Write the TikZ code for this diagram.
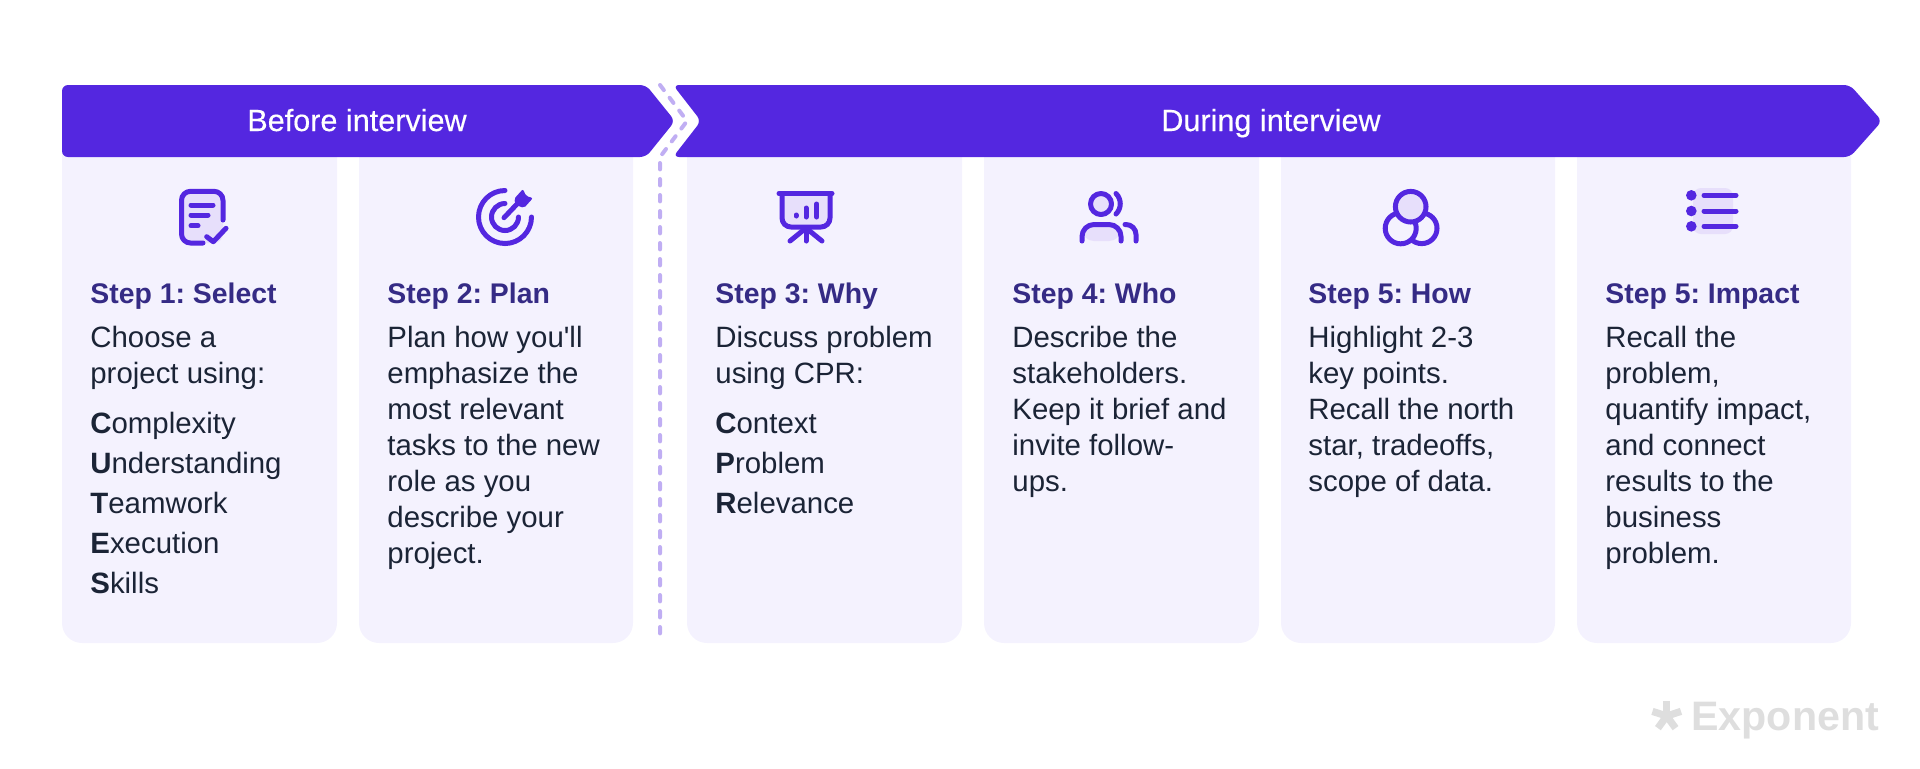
\documentclass[tikz,border=0pt]{standalone}
\usepackage{fontspec}
\setmainfont{Liberation Sans}[Ligatures=TeXOff]
\newfontfamily\mediumfont[FakeBold=0.4]{Liberation Sans}
\usetikzlibrary{positioning}
\frenchspacing

\definecolor{bannerviolet}{HTML}{5427E0}
\definecolor{cardlilac}{HTML}{F4F2FE}
\definecolor{iconlilac}{HTML}{E7DFFB}
\definecolor{dashlilac}{HTML}{C0AEF3}
\definecolor{titleindigo}{HTML}{352B85}
\definecolor{bodyink}{HTML}{1B2436}
\definecolor{logogrey}{HTML}{DEDEDE}

\tikzset{
    bannertext/.style={anchor=base,inner sep=0pt,text=white,font=\fontsize{15.3}{16}\mediumfont},
    steptitle/.style={anchor=base west,inner sep=0pt,text=titleindigo,font=\fontsize{14.2}{16}\selectfont\bfseries},
    stepbody/.style={anchor=base west,inner sep=0pt,align=left,text=bodyink,font=\fontsize{14.7}{18}\selectfont},
    steplist/.style={anchor=base west,inner sep=0pt,align=left,text=bodyink,font=\fontsize{14.7}{20}\selectfont},
    iconline/.style={draw=bannerviolet,line width=2.5pt,line cap=round,line join=round},
    iconfill/.style={fill=iconlilac},
}

\begin{document}
\begin{tikzpicture}[x=0.5pt,y=-0.5pt]
    \useasboundingbox (0,0) rectangle (1920,768);

    % cards
    \foreach \L/\R in {62/337,359/633,687/962,984/1259,1281/1555,1577/1851}{
        \fill[cardlilac] (\L,150) -- (\R,150) -- (\R,623)
            arc[start angle=0,end angle=90,radius=20] -- (\L+20,643)
            arc[start angle=90,end angle=180,radius=20] -- cycle;
    }

    % banners
    \fill[bannerviolet,rounded corners=3pt] (62,85) -- (646,85) -- (675,121) -- (646,157) -- (62,157) -- cycle;
    \fill[bannerviolet,rounded corners=3pt] (673,85) -- (1850,85) -- (1882,121) -- (1850,157) -- (673,157) -- (701,121) -- cycle;
    \node[bannertext] (before) at (357,131) {Before interview};
    \node[bannertext] (during) at (1271,131) {During interview};

    % divider between the two phases
    \coordinate (divtop) at (660,85);
    \coordinate (divmid) at (687,121);
    \coordinate (divturn) at (660,157);
    \coordinate (divend) at (660,641);
    \draw[dashlilac,line width=2pt,line cap=round,dash pattern=on 3.2pt off 4.8pt]
        (divtop) -- (divmid) -- (divturn) -- (divend);

    % select: sheet with tick
    \fill[iconfill,rounded corners=4.5pt] (181.5,191.3) rectangle (223,243);
    \draw[iconline,rounded corners=4.5pt] (223,220) -- (223,191.3) -- (181.5,191.3) -- (181.5,243) -- (203,243);
    \foreach \Y/\E in {205/213,215/208,225.7/198}{
        \draw[iconline] (191,\Y) -- (\E,\Y);
    }
    \draw[iconline] (206.7,236.7) -- (213.3,241.7) -- (226,228.3);

    % plan: target with dart
    \draw[iconline] (505,190.5) arc[start angle=-90,end angle=-360,radius=26.5];
    \draw[iconline] (505,203.5) arc[start angle=-90,end angle=-360,radius=13.5];
    \draw[iconline] (504,217.7) -- (518,203);
    \fill[bannerviolet,rounded corners=1pt] (514,199) -- (523,189) -- (526,196) -- (533,198) -- (524,208) -- (516,205) -- cycle;

    % why: presentation board
    \fill[iconfill] (782,194) -- (830,194) -- (830,227) -- (782,227) -- cycle;
    \draw[iconline,rounded corners=4.5pt] (782,194) -- (782,227) -- (830,227) -- (830,194);
    \draw[iconline] (779,193.5) -- (832,193.5);
    \draw[iconline] (796,215) -- (796,216);
    \draw[iconline] (806,208) -- (806,217);
    \draw[iconline] (816.7,204) -- (816.7,217);
    \draw[iconline] (806,228) -- (806,241);
    \draw[iconline] (806,228) -- (790,241);
    \draw[iconline] (806,228) -- (822,241);

    % who: people
    \draw[iconline,iconfill] (1101,204) circle[radius=10.5];
    \draw[iconline] (1116,193.5) arc[start angle=-45,end angle=45,radius=14.5];
    \fill[iconfill,rounded corners=6pt] (1082,241) -- (1082,224.5) -- (1121,224.5) -- (1121,241) -- cycle;
    \draw[iconline,rounded corners=6pt] (1082,241) -- (1082,224.5) -- (1121,224.5) -- (1121,241);
    \draw[iconline,rounded corners=5pt] (1125,224.5) -- (1136,224.5) -- (1136,241);

    % how: overlapping circles
    \draw[iconline] (1421.7,228.3) circle[radius=15.3];
    \draw[iconline,fill=cardlilac] (1400.7,228.3) circle[radius=15.5];
    \draw[iconline,iconfill] (1410.7,206.7) circle[radius=15.3];

    % impact: list
    \fill[iconfill,rounded corners=4pt] (1693,188) rectangle (1733,234);
    \foreach \Y in {195.3,211,226.3}{
        \fill[bannerviolet] (1691.3,\Y) circle[radius=5.3];
        \draw[iconline] (1704,\Y) -- (1736,\Y);
    }

    % step titles
    \foreach \X/\Name/\Txt in {90/selecttitle/Step 1: Select,387/plantitle/Step 2: Plan,715/whytitle/Step 3: Why,
        1012/whotitle/Step 4: Who,1308/howtitle/Step 5: How,1605/impacttitle/Step 5: Impact}{
        \node[steptitle] (\Name) at (\X,303) {\Txt};
    }

    % step texts, placed by their last baseline
    \node[stepbody] (selectbody) at (90,383) {Choose a\\project using:};
    \node[stepbody] (planbody) at (387,563) {Plan how you'll\\emphasize the\\most relevant\\tasks to the new\\role as you\\describe your\\project.};
    \node[stepbody] (whybody) at (715,383) {Discuss problem\\using CPR:};
    \node[stepbody] (whobody) at (1012,491) {Describe the\\stakeholders.\\Keep it brief and\\invite follow-\\ups.};
    \node[stepbody] (howbody) at (1308,491) {Highlight 2-3\\key points.\\Recall the north\\star, tradeoffs,\\scope of data.};
    \node[stepbody] (impactbody) at (1605,563) {Recall the\\problem,\\quantify impact,\\and connect\\results to the\\business\\problem.};

    \node[steplist] (cutes) at (90,593) {\textbf{C}omplexity\\\textbf{U}nderstanding\\\textbf{T}eamwork\\\textbf{E}xecution\\\textbf{S}kills};
    \node[steplist] (cpr) at (715,513) {\textbf{C}ontext\\\textbf{P}roblem\\\textbf{R}elevance};

    % logo
    \foreach \A in {-90,-18,54,126,198}{
        \draw[logogrey,line width=3.6pt] (1666.7,716) -- ++(\A:15);
    }
    \node[anchor=base west,inner sep=0pt,text=logogrey,font=\fontsize{20.6}{20}\selectfont\bfseries] (logo) at (1691,730) {Exponent};
\end{tikzpicture}
\end{document}
